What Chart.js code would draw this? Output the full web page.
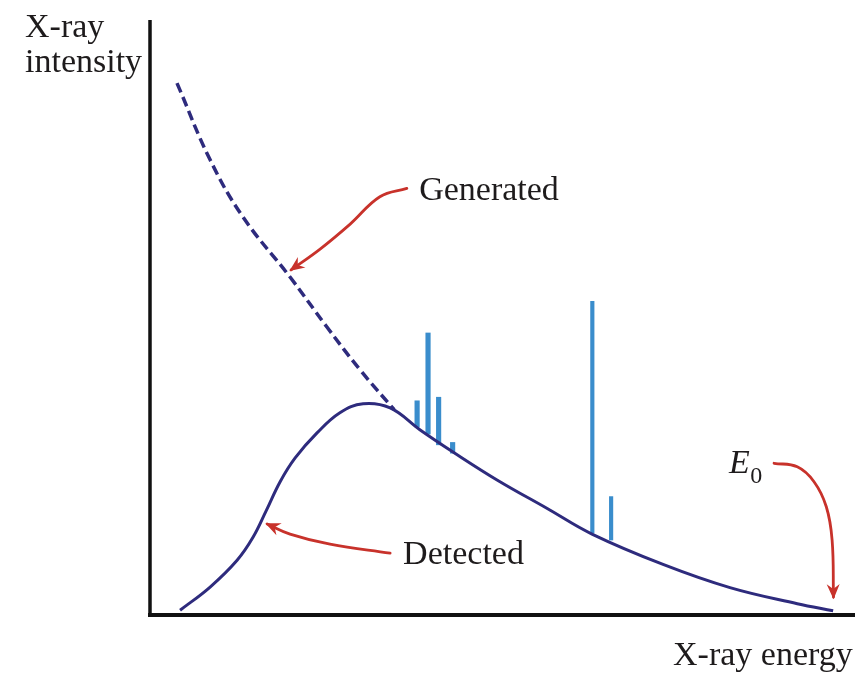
<!DOCTYPE html>
<html><head><meta charset="utf-8">
<script src="https://cdn.jsdelivr.net/npm/chart.js@4.4.1/dist/chart.umd.min.js"></script>
<style>html,body{margin:0;padding:0;background:#fff;} #wrap{width:863px;height:674px;position:relative;}</style>
</head><body><div id="wrap"><canvas id="c" width="863" height="674" style="width:863px;height:674px"></canvas></div>
<script>
// X-ray energy (keV, E0 = 20 keV) and intensity (arbitrary units)
const detectedEnergy    = [0.88, 1.76, 2.55, 3.02, 3.40, 3.81, 4.25, 4.89, 5.56, 6.24, 7.03, 7.91, 8.87, 10.16, 11.63, 12.94, 15.02, 16.98, 18.95, 20.0];
const detectedIntensity = [0.8, 4.7, 9.2, 13.1, 17.5, 22.4, 26.4, 30.6, 34.0, 35.5, 34.8, 31.1, 27.4, 22.7, 17.9, 13.6, 8.5, 4.6, 1.9, 0.7];

const generatedEnergy    = [0.79, 1.76, 2.72, 4.10, 5.18, 6.15, 7.15];
const generatedIntensity = [89.4, 76.5, 66.9, 56.8, 48.4, 41.2, 34.5];

// characteristic peaks (low-energy family)
const peakEnergyA = [7.82, 8.14, 8.45, 8.86];
const peakBaseA   = [31.6, 30.4, 28.6, 27.2];
const peakTopA    = [36.0, 47.4, 36.6, 29.0];
// characteristic peaks (high-energy family)
const peakEnergyB = [12.95, 13.50];
const peakBaseB   = [13.8, 12.6];
const peakTopB    = [52.7, 19.9];

// annotation arrows (energy, intensity)
const arrowGeneratedE = [7.52, 6.73, 5.86, 4.98, 4.13];
const arrowGeneratedI = [71.7, 70.3, 65.7, 61.5, 58.0];
const arrowDetectedE  = [7.03, 5.27, 4.10, 3.43];
const arrowDetectedI  = [10.4, 11.9, 13.6, 15.3];
const arrowE0E        = [18.27, 18.95, 19.44, 19.80, 19.97, 20.01];
const arrowE0I        = [25.5, 24.9, 22.4, 18.2, 12.6, 3.0];

const zip = (xs, ys) => xs.map((x, i) => ({x: x, y: ys[i]}));
const zipRange = (xs, lo, hi) => xs.map((x, i) => ({x: x, y: [lo[i], hi[i]]}));

const NAVY = '#2e2b7d', BLUE = '#3a8dcc', RED = '#c8322b', INK = '#1e1b1c';
const SERIF = '"Liberation Serif", "Times New Roman", serif';

const axesPlugin = {
  id: 'axesLines',
  beforeDatasetsDraw(chart) {
    const {ctx, chartArea: a} = chart;
    ctx.save();
    ctx.strokeStyle = '#111';
    ctx.lineCap = 'butt';
    ctx.lineWidth = 3.5;
    ctx.beginPath(); ctx.moveTo(a.left, a.top); ctx.lineTo(a.left, a.bottom + 2); ctx.stroke();
    ctx.lineWidth = 4;
    ctx.beginPath(); ctx.moveTo(a.left - 2, a.bottom); ctx.lineTo(a.right, a.bottom); ctx.stroke();
    ctx.restore();
  }
};

const arrowPlugin = {
  id: 'arrowHeads',
  afterDatasetsDraw(chart) {
    const ctx = chart.ctx;
    chart.data.datasets.forEach((ds, i) => {
      if (!ds.arrow) return;
      const pts = chart.getDatasetMeta(i).data;
      const p1 = pts[pts.length - 1];
      const cp = p1.cp1x !== undefined ? {x: p1.cp1x, y: p1.cp1y} : pts[pts.length - 2];
      let ang = Math.atan2(p1.y - cp.y, p1.x - cp.x);
      if (!isFinite(ang) || (Math.abs(p1.x - cp.x) < 0.01 && Math.abs(p1.y - cp.y) < 0.01)) {
        const p0 = pts[pts.length - 2];
        ang = Math.atan2(p1.y - p0.y, p1.x - p0.x);
      }
      const L = 15, W = 6.5;
      ctx.save();
      ctx.translate(p1.x + Math.cos(ang) * 2, p1.y + Math.sin(ang) * 2);
      ctx.rotate(ang);
      ctx.fillStyle = RED;
      ctx.beginPath();
      ctx.moveTo(0, 0);
      ctx.lineTo(-L, -W);
      ctx.lineTo(-L * 0.68, 0);
      ctx.lineTo(-L, W);
      ctx.closePath();
      ctx.fill();
      ctx.restore();
    });
  }
};

const labelPlugin = {
  id: 'labels',
  afterDraw(chart) {
    const {ctx, scales: {x, y}} = chart;
    ctx.save();
    ctx.fillStyle = INK;
    ctx.textBaseline = 'alphabetic';
    ctx.textAlign = 'left';
    ctx.font = '34px ' + SERIF;
    ctx.fillText('X-ray', 25, 37);
    ctx.fillText('intensity', 25, 72);
    ctx.fillText('X-ray energy', 673, 665);
    ctx.fillText('Generated', x.getPixelForValue(7.88), y.getPixelForValue(69.75));
    ctx.fillText('Detected', x.getPixelForValue(7.41), y.getPixelForValue(8.57));
    const ex = x.getPixelForValue(16.95), ey = y.getPixelForValue(23.87);
    ctx.font = 'italic 34px ' + SERIF;
    ctx.fillText('E', ex, ey);
    const w = ctx.measureText('E').width;
    ctx.font = '24px ' + SERIF;
    ctx.fillText('0', ex + w + 0.5, ey + 10);
    ctx.restore();
  }
};

const arrowDs = (xs, ys) => ({
  type: 'line', data: zip(xs, ys), borderColor: RED, borderWidth: 2.8,
  tension: 0.4, pointRadius: 0, fill: false, arrow: true, order: 0, borderCapStyle: 'round'
});

new Chart(document.getElementById('c'), {
  type: 'line',
  data: {
    datasets: [
      { label: 'Detected', data: zip(detectedEnergy, detectedIntensity), borderColor: NAVY, borderWidth: 3,
        tension: 0.4, pointRadius: 0, fill: false, order: 1 },
      { label: 'Generated', data: zip(generatedEnergy, generatedIntensity), borderColor: NAVY, borderWidth: 3.5,
        borderDash: [10, 5], tension: 0.4, pointRadius: 0, fill: false, order: 1 },
      { type: 'bar', label: 'Peaks A', data: zipRange(peakEnergyA, peakBaseA, peakTopA), backgroundColor: BLUE,
        barThickness: 4.5, grouped: false, borderWidth: 0, order: 2 },
      { type: 'bar', label: 'Peaks B', data: zipRange(peakEnergyB, peakBaseB, peakTopB), backgroundColor: BLUE,
        barThickness: 3.5, grouped: false, borderWidth: 0, order: 2 },
      arrowDs(arrowGeneratedE, arrowGeneratedI),
      arrowDs(arrowDetectedE, arrowDetectedI),
      arrowDs(arrowE0E, arrowE0I)
    ]
  },
  options: {
    responsive: false,
    animation: false,
    devicePixelRatio: 1,
    layout: { padding: { left: 150, right: 8, top: 20, bottom: 59 } },
    plugins: { legend: { display: false }, tooltip: { enabled: false } },
    scales: {
      x: { type: 'linear', min: 0, max: 20.64, offset: false, display: false },
      y: { type: 'linear', min: 0, max: 100, display: false }
    }
  },
  plugins: [axesPlugin, arrowPlugin, labelPlugin]
});
</script>
</body></html>
